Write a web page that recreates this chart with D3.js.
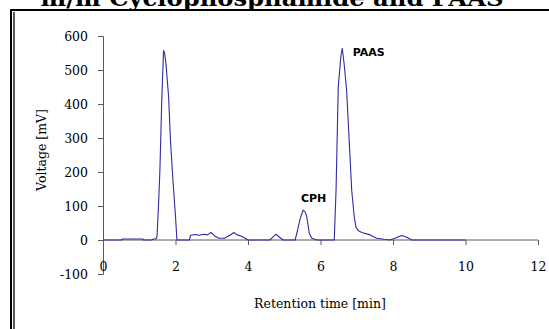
<!DOCTYPE html>
<html>
<head>
<meta charset="utf-8">
<script src="https://cdn.jsdelivr.net/npm/d3@7"></script>
<style>
  body { margin: 0; background: #fff; }
  svg { display: block; }
  .tick-label { font-family: "DejaVu Serif", serif; font-size: 12.5px; fill: #000; }
  .axis-label { font-family: "DejaVu Serif", serif; font-size: 12.5px; fill: #000; }
  .peak-label { font-family: "DejaVu Sans", sans-serif; font-size: 11px; font-weight: bold; fill: #000; }
</style>
</head>
<body>
<div id="chart"></div>
<script>
// chromatogram trace
const times = [0, 0.50, 0.54, 1.09, 1.12, 1.33, 1.40, 1.46, 1.49, 1.53, 1.57, 1.62, 1.67, 1.70, 1.74,
  1.81, 1.86, 1.93, 2.00, 2.04, 2.38, 2.42, 2.55, 2.65, 2.78, 2.88, 2.98, 3.08, 3.20, 3.35, 3.50,
  3.61, 3.70, 3.80, 3.92, 4.00, 4.60, 4.68, 4.77, 4.87, 4.97, 5.30, 5.36, 5.43, 5.52, 5.58, 5.62,
  5.69, 5.76, 5.90, 6.38, 6.43, 6.49, 6.56, 6.60, 6.65, 6.72, 6.80, 6.86, 6.93, 6.98, 7.05, 7.14,
  7.37, 7.55, 7.75, 7.92, 8.05, 8.24, 8.38, 8.52, 10.00];
const voltages = [0, 0, 3, 3, 0, 0, 3, 3, 10, 98, 206, 407, 557, 550, 515,
  421, 294, 176, 69, 0, 0, 14, 16, 14, 17, 15, 22, 12, 5, 5, 14,
  22, 15, 12, 5, 0, 0, 8, 17, 8, 0, 0, 25, 59, 88, 82, 69,
  20, 5, 0, 0, 150, 451, 539, 564, 520, 441, 274, 147, 69, 37, 27, 22,
  15, 5, 2, 0, 5, 13, 8, 0, 0];

const xTicks = [0, 2, 4, 6, 8, 10, 12];
const yTicks = [-100, 0, 100, 200, 300, 400, 500, 600];

const peakNames = ["CPH", "PAAS"];
const peakTimes = [5.81, 6.89];
const peakVolts = [112, 541];

const title = "m/m Cyclophosphamide and PAAS";
const xTitle = "Retention time [min]";
const yTitle = "Voltage [mV]";

const W = 549, H = 329;
const margin = { top: 36, right: 11, bottom: 55, left: 103 };

const svg = d3.select("#chart").append("svg")
  .attr("width", W)
  .attr("height", H);

// frame: single rule on top, double rule on the left
svg.append("line").attr("x1", 10).attr("x2", W).attr("y1", 10).attr("y2", 10)
  .attr("stroke", "#000").attr("stroke-width", 2);
svg.append("line").attr("x1", 11).attr("x2", 11).attr("y1", 9).attr("y2", H)
  .attr("stroke", "#000").attr("stroke-width", 2);
svg.append("line").attr("x1", 14).attr("x2", 14).attr("y1", 12).attr("y2", H)
  .attr("stroke", "#000").attr("stroke-width", 1.3);

// title, cut off by the top edge like in the source
svg.append("text")
  .attr("x", 272)
  .attr("y", 6)
  .attr("text-anchor", "middle")
  .attr("textLength", 463)
  .attr("lengthAdjust", "spacingAndGlyphs")
  .style("font-family", "'DejaVu Serif', serif")
  .style("font-size", "22px")
  .style("font-weight", "bold")
  .text(title);

const x = d3.scaleLinear().domain([0, 12]).range([margin.left, W - margin.right]);
const y = d3.scaleLinear().domain([-100, 600]).range([H - margin.bottom, margin.top]);

const axisColor = "#5a5a5a";
const plain = d => String(d);   // hyphen minus, as in the source

// y axis
const yAxis = svg.append("g")
  .attr("transform", `translate(${x(0)},0)`)
  .call(d3.axisLeft(y).tickValues(yTicks).tickFormat(plain).tickSizeOuter(0).tickSize(5).tickPadding(10));
yAxis.select(".domain").attr("stroke", axisColor);
yAxis.selectAll(".tick line").attr("stroke", axisColor);
yAxis.selectAll(".tick text").attr("class", "tick-label").attr("fill", "#000");

// x axis sits on v = 0, labels pushed down to the bottom of the plot
const xAxis = svg.append("g")
  .attr("transform", `translate(0,${y(0)})`)
  .call(d3.axisBottom(x).tickValues(xTicks).tickFormat(plain).tickSizeOuter(0).tickSize(5).tickPadding(17));
xAxis.select(".domain").attr("stroke", axisColor);
xAxis.selectAll(".tick line").attr("stroke", axisColor);
xAxis.selectAll(".tick text").attr("class", "tick-label").attr("fill", "#000");
xAxis.select(".domain").attr("d", `M${x(0)},0H${x(12)}`);
xAxis.selectAll(".tick").filter(d => d === 0).select("line").remove();

// axis titles
svg.append("text")
  .attr("class", "axis-label")
  .attr("x", 320)
  .attr("y", 308)
  .attr("text-anchor", "middle")
  .text(xTitle);
svg.append("text")
  .attr("class", "axis-label")
  .attr("transform", `translate(46,${(y(600) + y(-100)) / 2 - 5}) rotate(-90)`)
  .attr("text-anchor", "middle")
  .text(yTitle);

// trace
const points = times.map((t, i) => ({ t, v: voltages[i] }));
const line = d3.line()
  .x(d => x(d.t))
  .y(d => y(d.v));
svg.append("path")
  .datum(points)
  .attr("fill", "none")
  .attr("stroke", "#2e2ea0")
  .attr("stroke-width", 1.1)
  .attr("stroke-linejoin", "round")
  .attr("d", line);

// peak labels
svg.selectAll("text.peak")
  .data(peakNames)
  .join("text")
  .attr("class", "peak-label")
  .attr("x", (d, i) => x(peakTimes[i]))
  .attr("y", (d, i) => y(peakVolts[i]))
  .attr("text-anchor", (d, i) => i === 0 ? "middle" : "start")
  .text(d => d);
</script>
</body>
</html>
